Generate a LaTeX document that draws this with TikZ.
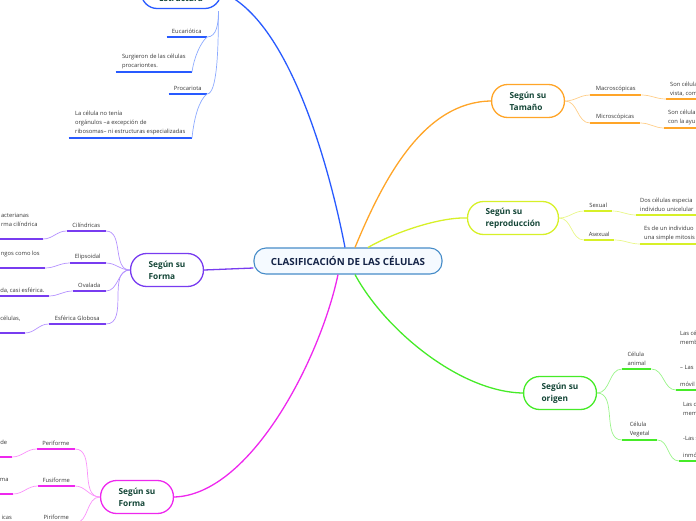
\documentclass[tikz,border=0pt]{standalone}
\usepackage{fontspec}
\setmainfont{Open Sans}
\usetikzlibrary{calc}
\definecolor{hubline}{RGB}{70,140,200}
\definecolor{hubfill}{RGB}{245,250,255}
\definecolor{hubink}{RGB}{20,35,70}
\definecolor{topicink}{RGB}{20,70,55}
\definecolor{leafink}{RGB}{55,55,55}
\definecolor{cblue}{RGB}{40,90,255}
\definecolor{cbluel}{RGB}{140,170,255}
\definecolor{cpurple}{RGB}{120,60,240}
\definecolor{cpurplel}{RGB}{180,145,255}
\definecolor{cmag}{RGB}{238,40,238}
\definecolor{cmagl}{RGB}{250,145,250}
\definecolor{corange}{RGB}{255,165,40}
\definecolor{cyel}{RGB}{215,240,40}
\definecolor{cgreen}{RGB}{70,235,40}
\tikzset{
  hub/.style={draw=hubline, fill=hubfill, line width=1.1pt, rounded corners=12pt,
              minimum height=26pt, minimum width=188pt, text=hubink,
              font=\fontsize{9.8}{11}\selectfont\bfseries},
  topic/.style={draw=#1, fill=white, line width=1.3pt, rounded corners=16pt,
                minimum height=33pt, inner xsep=18pt, align=left, text=topicink,
                font=\fontsize{8.3}{12}\selectfont\bfseries},
  leaf/.style={inner xsep=4pt, inner ysep=3pt, align=left, text=leafink,
               font=\fontsize{5.8}{9}\selectfont},
  limb/.style={line width=1.3pt},
  uline/.style={line width=1.8pt},
  twig/.style={line width=0.7pt},
}

\begin{document}
\begin{tikzpicture}[x=1pt, y=-1pt]
  \useasboundingbox (0,0) rectangle (696,520);
  \coordinate (rim) at (700,0);

  % central topic and main topics
  \node[hub] (root) at (348,261) {CLASIFICACIÓN DE LAS CÉLULAS};
  \node[topic=cblue] (estr) at (181,-8) {Según su\\Estructura};
  \node[topic=cpurple] (forma) at (167,270) {Según su\\Forma};
  \node[topic=cmag] (forma2) at (137,497) {Según su\\Forma};
  \node[topic=corange] (tam) at (528,101) {Según su\\Tamaño};
  \node[topic=cyel] (repro) at (513,218) {Según su\\reproducción};
  \node[topic=cgreen] (orig) at (560,393) {Según su\\origen};

  \draw[limb, cblue] ($(root.north)+(-3,0)$) .. controls (330,170) and (290,20) .. (estr.east);
  \draw[limb, cpurple] ($(root.west)+(0,7)$) -- (forma.east);
  \draw[limb, cmag] ($(root.south)+(-10,0)$) .. controls (320,360) and (250,495) .. (forma2.east);
  \draw[limb, corange] ($(root.north)+(7,0)$) .. controls (385,175) and (425,102) .. (tam.west);
  \draw[limb, cyel] ($(root.north)+(20,0)$) .. controls (395,232) and (440,217) .. (repro.west);
  \draw[limb, cgreen] ($(root.south)+(7,0)$) .. controls (385,330) and (460,392) .. (orig.west);

  % estructura
  \node[leaf, anchor=south east, minimum width=40pt] (euc) at (207,37) {Eucariótica};
  \node[leaf, anchor=south east, minimum width=76pt] (surg) at (192,72)
       {Surgieron de las células\\procariontes.};
  \node[leaf, anchor=south east, minimum width=38pt] (proc) at (207,94) {Procariota};
  \node[leaf, anchor=south east, minimum width=123pt] (sincel) at (192,138)
       {La célula no tenía\\orgánulos –a excepción de\\ribosomas– ni estructuras especializadas};
  \foreach \n in {euc,surg,proc,sincel}
    \draw[uline, cblue] (\n.south west) -- (\n.south east);
  \draw[twig, cbluel] ($(estr.south east)+(-3,2)$) .. controls +(0,12) and +(10,0) .. (euc.south east);
  \draw[twig, cbluel] ($(estr.south east)+(-3,2)$) .. controls +(0,40) and +(10,0) .. (proc.south east);
  \draw[twig, cbluel] (euc.south east) .. controls +(-6,5) and +(2,-15) .. (surg.south east);
  \draw[twig, cbluel] (proc.south east) .. controls +(-8,6) and +(2,-20) .. (sincel.south east);

  % forma (izquierda)
  \node[leaf, anchor=south east, minimum width=39pt] (cil) at (106,231) {Cilíndricas};
  \node[leaf, anchor=south east, minimum width=36pt] (eli) at (106,263) {Elipsoidal};
  \node[leaf, anchor=south east, minimum width=33pt] (ova) at (106,291) {Ovalada};
  \node[leaf, anchor=south east, minimum width=57pt] (esf) at (106,324) {Esférica Globosa};
  \node[leaf, anchor=south east, minimum width=47pt] (cilg) at (43,239)
       {acterianas\\rma cilíndrica\\\mbox{}};
  \node[leaf, anchor=south east, minimum width=49pt] (elig) at (45,268) {ngos como los\\\mbox{}};
  \node[leaf, anchor=south east, minimum width=53pt] (ovag) at (49,296) {da, casi esférica.};
  \node[leaf, anchor=south east, minimum width=29pt] (esfg) at (25,333) {células,\\\mbox{}};
  \foreach \n in {cil,eli,ova,esf,cilg,elig,ovag,esfg}
    \draw[uline, cpurple] (\n.south west) -- (\n.south east);
  \foreach \n/\m in {cil/cilg,eli/elig,ova/ovag,esf/esfg} {
    \draw[twig, cpurplel] (forma.west) to[out=180, in=0] (\n.south east);
    \draw[twig, cpurplel] (\n.south west) to[out=180, in=0] (\m.south east);
  }

  % forma (abajo)
  \node[leaf, anchor=south east, minimum width=38pt] (peri) at (75,449) {Periforme};
  \node[leaf, anchor=south east, minimum width=37pt] (fusi) at (75,486) {Fusiforme};
  \node[leaf, anchor=south east, minimum width=37pt] (piri) at (75,523) {Piriforme};
  \node[leaf, anchor=south east, minimum width=16pt] (perig) at (12,457) {de\\\mbox{}};
  \node[leaf, anchor=south east, minimum width=17pt] (fusig) at (13,494) {ma\\\mbox{}};
  \node[leaf, anchor=south east, minimum width=22pt] (pirig) at (18,532) {icas\\\mbox{}};
  \foreach \n in {peri,fusi,piri,perig,fusig,pirig}
    \draw[uline, cmag] (\n.south west) -- (\n.south east);
  \foreach \n/\m in {peri/perig,fusi/fusig,piri/pirig} {
    \draw[twig, cmagl] (forma2.west) to[out=180, in=0] (\n.south east);
    \draw[twig, cmagl] (\n.south west) to[out=180, in=0] (\m.south east);
  }

  % tamano
  \node[leaf, anchor=south west, minimum width=51pt] (macro) at (590,95) {Macroscópicas};
  \node[leaf, anchor=south west, minimum width=50pt] (micro) at (590,123) {Microscópicas};
  \node[leaf, anchor=south west] (macrog) at (666,99) {Son célula\\vista, com};
  \node[leaf, anchor=south west] (microg) at (664,128) {Son célula\\con la ayu};

  % reproduccion
  \node[leaf, anchor=south west, minimum width=28pt] (sex) at (584,211) {Sexual};
  \node[leaf, anchor=south west, minimum width=30pt] (asex) at (584,240) {Asexual};
  \node[leaf, anchor=south west] (sexg) at (636,215) {Dos células especia\\individuo unicelular};
  \node[leaf, anchor=south west] (asexg) at (640,244) {Es de un individuo\\una simple mitosis};

  % origen
  \node[leaf, anchor=south west, minimum width=29pt] (anim) at (622,369) {Célula\\animal};
  \node[leaf, anchor=south west, minimum width=35pt] (vege) at (622,440) {Célula\\Vegetal};
  \node[leaf, anchor=south west] (animg) at (676,390)
       {Las cé\\memb\\[16pt]– Las\\[8pt]móvil};
  \node[leaf, anchor=south west] (vegeg) at (679,461)
       {Las c\\mem\\[16pt]-Las s\\[8pt]inmó};

  \foreach \p/\n/\m/\c in {tam/macro/macrog/corange, tam/micro/microg/corange,
      repro/sex/sexg/cyel, repro/asex/asexg/cyel,
      orig/anim/animg/cgreen, orig/vege/vegeg/cgreen} {
    \draw[uline, \c] (\n.south west) -- (\n.south east);
    \draw[uline, \c] (\m.south west) -- (\m.south west -| rim);
    \draw[twig, \c!55] (\p.east) to[out=0, in=180] (\n.south west);
    \draw[twig, \c!55] (\n.south east) to[out=0, in=180] (\m.south west);
  }
\end{tikzpicture}
\end{document}
